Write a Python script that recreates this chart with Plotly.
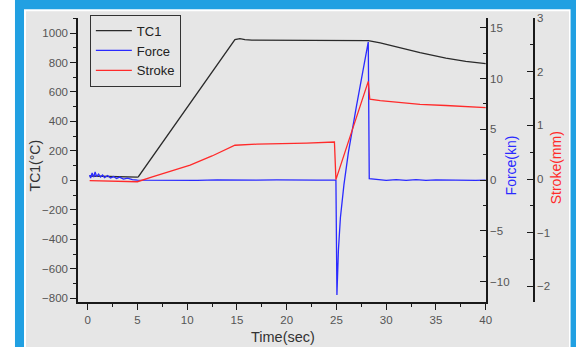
import plotly.graph_objects as go

# ---- data ----
t_tc1 = [0.2, 1, 2, 3, 4, 5, 5.1, 14.8, 15.3, 15.8, 16.5, 20, 24, 28.2, 29.4, 31, 33.4, 36, 38, 40]
tc1 = [30, 28, 25, 24, 22, 22, 25, 955, 962, 955, 952, 950, 948, 948, 933, 905, 867, 830, 808, 792]

t_force = [0.2, 0.3, 0.45, 0.6, 0.75, 0.9, 1.1, 1.3, 1.5, 1.7, 2.0, 2.3, 2.6, 2.9, 3.2, 3.6, 4.0, 4.5, 5.0,
           7, 9, 11, 13, 15, 17, 19, 21, 23, 24.95,
           25.05, 25.2, 25.4, 25.75, 26.2, 27.0, 27.5, 28.0, 28.2, 28.3,
           29, 30, 31, 32, 33, 34, 35, 36, 37, 38, 39, 40]
force = [0.5, 0.2, 0.7, 0.3, 0.8, 0.35, 0.6, 0.3, 0.5, 0.25, 0.45, 0.2, 0.35, 0.15, 0.3, 0.1, 0.2, 0.05, 0.0,
         -0.02, 0.02, -0.02, 0.02, -0.02, 0.0, 0.02, -0.02, 0.0, 0.0,
         -11.3, -6.9, -3.7, -0.5, 2.7, 7.2, 9.9, 12.6, 13.6, 0.15,
         0.05, -0.03, 0.05, -0.02, 0.04, -0.03, 0.02, 0.0, -0.03, 0.02, -0.02, 0.0]

t_stroke = [0.2, 2, 4, 5.0, 6.5, 8.3, 10.3, 12.5, 14.8, 17, 20, 22, 24.8, 24.95,
            28.2, 28.35, 29.4, 31, 33.4, 36, 40]
stroke = [-0.03, -0.04, -0.05, -0.05, 0.04, 0.14, 0.26, 0.43, 0.63, 0.65, 0.66, 0.67, 0.69, -0.01,
          1.82, 1.49, 1.46, 1.43, 1.39, 1.37, 1.33]

x_ticks = [0, 5, 10, 15, 20, 25, 30, 35, 40]
tc1_ticks = [-800, -600, -400, -200, 0, 200, 400, 600, 800, 1000]
force_ticks = [-10, -5, 0, 5, 10, 15]
stroke_ticks = [-2, -1, 0, 1, 2, 3]

FONT = "Arial, Liberation Sans, sans-serif"
TICKC = "#555555"
AXC = "#1a1a1a"

fig = go.Figure()
fig.add_trace(go.Scatter(x=t_tc1, y=tc1, name="TC1", mode="lines",
                         line=dict(color="#2a2a2a", width=1.3), yaxis="y"))
fig.add_trace(go.Scatter(x=t_force, y=force, name="Force", mode="lines",
                         line=dict(color="#2a2aff", width=1.3), yaxis="y2"))
fig.add_trace(go.Scatter(x=t_stroke, y=stroke, name="Stroke", mode="lines",
                         line=dict(color="#ff2a2a", width=1.3), yaxis="y3"))

axis_common = dict(showgrid=False, zeroline=False, showline=True, linecolor=AXC, linewidth=1.5,
                   tickcolor=AXC, tickwidth=1.3, tickfont=dict(family=FONT, size=11.5, color=TICKC))

fig.update_layout(
    width=576, height=347,
    margin=dict(l=78, r=42, t=13, b=45),
    paper_bgcolor="white", plot_bgcolor="rgba(0,0,0,0)",
    font=dict(family=FONT),
    showlegend=True,
    legend=dict(x=0.026, y=1.012, xanchor="left", yanchor="top", bordercolor="#333", borderwidth=1,
                bgcolor="rgba(0,0,0,0)", font=dict(family=FONT, size=13, color="#222"),
                itemwidth=36, tracegroupgap=0),
    xaxis=dict(domain=[0, 0.8947], range=[-0.97, 40.03], tickvals=x_ticks, ticks="outside", ticklen=6,
               minor=dict(dtick=2.5, ticks="outside", ticklen=3, tickcolor=AXC), **axis_common),
    yaxis=dict(range=[-825, 1102], tickvals=tc1_ticks, ticks="outside", ticklen=6,
               minor=dict(dtick=100, ticks="outside", ticklen=3, tickcolor=AXC), **axis_common),
    yaxis2=dict(range=[-12, 15.96], tickvals=force_ticks, overlaying="y", side="right", anchor="x",
                ticks="inside", ticklen=6,
                minor=dict(dtick=2.5, ticks="inside", ticklen=3, tickcolor=AXC), **axis_common),
    yaxis3=dict(range=[-2.29, 3.0], tickvals=stroke_ticks, overlaying="y", side="right", anchor="free",
                position=1.0, ticks="inside", ticklen=6,
                minor=dict(dtick=0.5, ticks="inside", ticklen=3, tickcolor=AXC), **axis_common),
    shapes=[
        dict(type="rect", xref="paper", yref="paper", x0=-0.1382, x1=1.11, y0=-0.2, y1=1.07,
             fillcolor="#21a0e2", line=dict(width=0), layer="below"),
        dict(type="rect", xref="paper", yref="paper", x0=-0.1184, x1=1.0802, y0=-0.2, y1=1.0311,
             fillcolor="white", line=dict(width=0), layer="below"),
        dict(type="rect", xref="paper", yref="paper", x0=-0.1140, x1=1.0768, y0=-0.2, y1=1.0242,
             fillcolor="#e6e6e6", line=dict(width=0), layer="below"),
    ],
    annotations=[
        dict(text="TC1(°C)", xref="paper", yref="paper", x=-0.0943, y=0.481, showarrow=False,
             textangle=-90, font=dict(family=FONT, size=14, color="#333"), xanchor="center", yanchor="middle"),
        dict(text="Force(kn)", xref="paper", yref="paper", x=0.9496, y=0.481, showarrow=False,
             textangle=-90, font=dict(family=FONT, size=14, color="#2a2aff"), xanchor="center", yanchor="middle"),
        dict(text="Stroke(mm)", xref="paper", yref="paper", x=1.048, y=0.474, showarrow=False,
             textangle=-90, font=dict(family=FONT, size=14, color="#ff2a2a"), xanchor="center", yanchor="middle"),
        dict(text="Time(sec)", xref="paper", yref="paper", x=0.4496, y=-0.1246, showarrow=False,
             font=dict(family=FONT, size=14.5, color="#333"), xanchor="center", yanchor="middle"),
    ],
)

fig.write_html("out.html")
